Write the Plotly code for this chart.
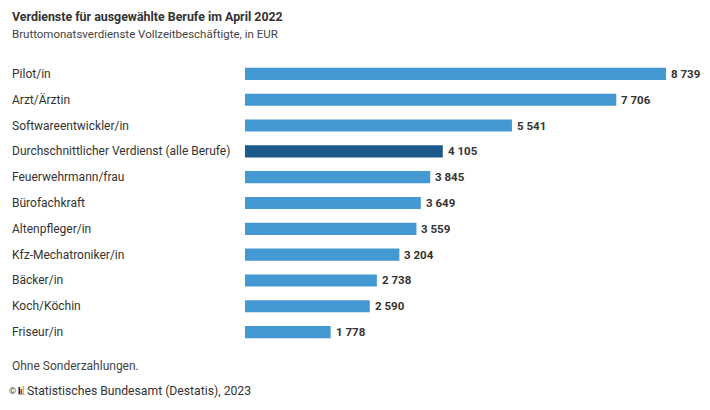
import plotly.graph_objects as go

categories = ["Pilot/in", "Arzt/Ärztin", "Softwareentwickler/in",
              "Durchschnittlicher Verdienst (alle Berufe)", "Feuerwehrmann/frau",
              "Bürofachkraft", "Altenpfleger/in", "Kfz-Mechatroniker/in",
              "Bäcker/in", "Koch/Köchin", "Friseur/in"]
values = [8739, 7706, 5541, 4105, 3845, 3649, 3559, 3204, 2738, 2590, 1778]
highlight = "Durchschnittlicher Verdienst (alle Berufe)"

W, H = 710, 410
ML, MR, MT, MB = 245, 10, 61, 65
PW = W - ML - MR
PH = H - MT - MB

def px(x):
    return (x - ML) / PW

def py(y):
    return (H - MB - y) / PH

colors = ["#1b5a8b" if c == highlight else "#4499d3" for c in categories]
labels = [f"{v:,}".replace(",", " ") for v in values]

fig = go.Figure(go.Bar(
    x=values, y=categories, orientation="h",
    marker=dict(color=colors, line=dict(width=0)),
    hoverinfo="skip",
))

font = "Roboto"
annotations = []
for c, v, t in zip(categories, values, labels):
    annotations.append(dict(x=px(10), xref="paper", y=c, yref="y", text=c,
                            showarrow=False, xanchor="left", yanchor="middle",
                            font=dict(family=font, size=12, color="#333333")))
    annotations.append(dict(x=v, xref="x", y=c, yref="y", text=f"<b>{t}</b>",
                            showarrow=False, xanchor="left", yanchor="middle",
                            xshift=3,
                            font=dict(family=font, size=11.5, color="#333333")))
annotations += [
    dict(x=px(10), y=py(17), xref="paper", yref="paper", showarrow=False,
         xanchor="left", yanchor="middle",
         text="<b>Verdienste für ausgewählte Berufe im April 2022</b>",
         font=dict(family=font, size=12.4, color="#333333")),
    dict(x=px(10), y=py(34), xref="paper", yref="paper", showarrow=False,
         xanchor="left", yanchor="middle",
         text="Bruttomonatsverdienste Vollzeitbeschäftigte, in EUR",
         font=dict(family=font, size=11.5, color="#444444")),
    dict(x=px(10), y=py(366), xref="paper", yref="paper", showarrow=False,
         xanchor="left", yanchor="middle", text="Ohne Sonderzahlungen.",
         font=dict(family=font, size=12, color="#444444")),
    dict(x=px(7), y=py(391), xref="paper", yref="paper", showarrow=False,
         xanchor="left", yanchor="middle", text="©",
         font=dict(family=font, size=9, color="#444444")),
    dict(x=px(25), y=py(391), xref="paper", yref="paper", showarrow=False,
         xanchor="left", yanchor="middle",
         text="Statistisches Bundesamt (Destatis), 2023",
         font=dict(family=font, size=12.2, color="#333333")),
]

shapes = []
for x0, x1, y0, y1, col in [(18.5, 20, 387, 394, "#222222"),
                            (20.5, 22, 389, 394, "#d4202a"),
                            (22.5, 24, 386, 394, "#f2b50c")]:
    shapes.append(dict(type="rect", xref="paper", yref="paper",
                       x0=px(x0), x1=px(x1), y0=py(y1), y1=py(y0),
                       fillcolor=col, line=dict(width=0)))
shapes.append(dict(type="line", xref="paper", yref="paper",
                   x0=px(18), x1=px(24.5), y0=py(394.3), y1=py(394.3),
                   line=dict(color="#888888", width=0.8)))

fig.update_layout(
    width=W, height=H,
    margin=dict(l=ML, r=MR, t=MT, b=MB, pad=0),
    paper_bgcolor="white", plot_bgcolor="white",
    showlegend=False, bargap=0.53,
    xaxis=dict(range=[0, 9444], visible=False, fixedrange=True),
    yaxis=dict(autorange="reversed", showticklabels=False, showgrid=False,
               zeroline=False, showline=False, ticks="", fixedrange=True),
    annotations=annotations, shapes=shapes,
)

fig.write_html("out.html", post_script="document.body.style.margin='0';",
               config={"displayModeBar": False})
